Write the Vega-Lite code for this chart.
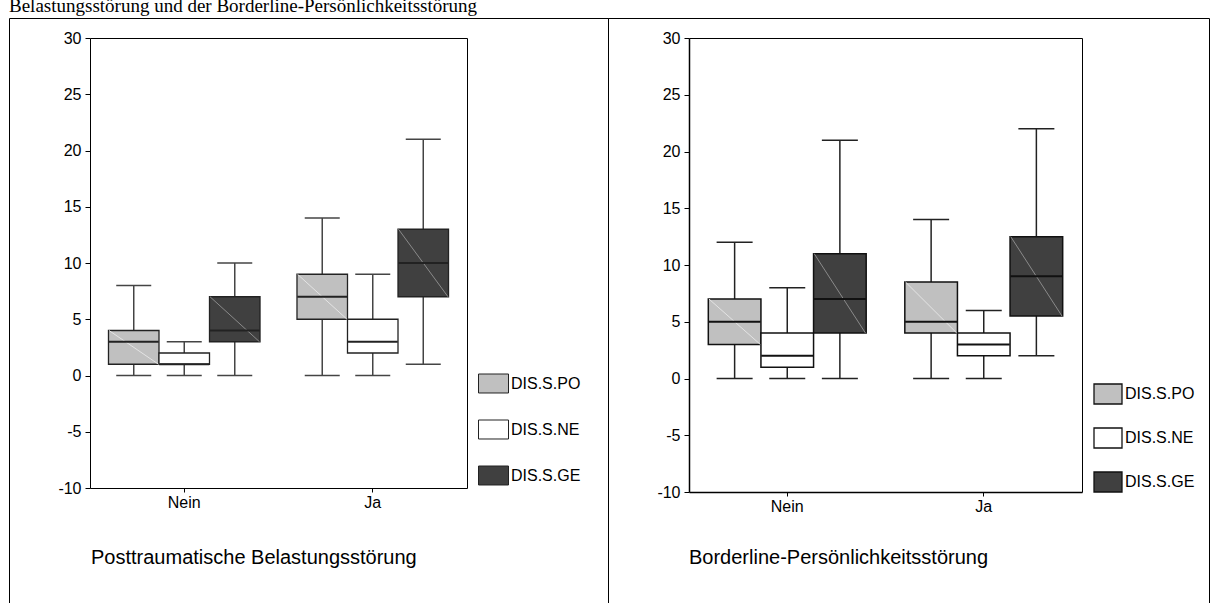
{
  "$schema": "https://vega.github.io/schema/vega-lite/v6.json",
  "padding": {"left": 8, "top": -4, "right": 4, "bottom": 0},
  "title": {"text": "Belastungsstörung und der Borderline-Persönlichkeitsstörung", "anchor": "start", "frame": "group", "font": "Liberation Serif", "fontSize": 19, "fontWeight": "normal", "color": "#000", "offset": 2},
  "datasets": {
    "ptbs": [
      {"group": "Nein", "series": "DIS.S.PO", "lower": 0, "q1": 1, "median": 3, "q3": 4, "upper": 8},
      {"group": "Nein", "series": "DIS.S.NE", "lower": 0, "q1": 1, "median": 1, "q3": 2, "upper": 3},
      {"group": "Nein", "series": "DIS.S.GE", "lower": 0, "q1": 3, "median": 4, "q3": 7, "upper": 10},
      {"group": "Ja", "series": "DIS.S.PO", "lower": 0, "q1": 5, "median": 7, "q3": 9, "upper": 14},
      {"group": "Ja", "series": "DIS.S.NE", "lower": 0, "q1": 2, "median": 3, "q3": 5, "upper": 9},
      {"group": "Ja", "series": "DIS.S.GE", "lower": 1, "q1": 7, "median": 10, "q3": 13, "upper": 21}
    ],
    "bps": [
      {"group": "Nein", "series": "DIS.S.PO", "lower": 0, "q1": 3, "median": 5, "q3": 7, "upper": 12},
      {"group": "Nein", "series": "DIS.S.NE", "lower": 0, "q1": 1, "median": 2, "q3": 4, "upper": 8},
      {"group": "Nein", "series": "DIS.S.GE", "lower": 0, "q1": 4, "median": 7, "q3": 11, "upper": 21},
      {"group": "Ja", "series": "DIS.S.PO", "lower": 0, "q1": 4, "median": 5, "q3": 8.5, "upper": 14},
      {"group": "Ja", "series": "DIS.S.NE", "lower": 0, "q1": 2, "median": 3, "q3": 4, "upper": 6},
      {"group": "Ja", "series": "DIS.S.GE", "lower": 2, "q1": 5.5, "median": 9, "q3": 12.5, "upper": 22}
    ]
  },
  "spacing": 0,
  "bounds": "flush",
  "resolve": {"scale": {"color": "independent", "x": "independent", "y": "independent", "xOffset": "independent"}, "legend": {"color": "independent"}},
  "hconcat": [
    {
      "width": 599,
      "height": 600,
      "data": {"name": "ptbs"},
      "title": {"text": "Posttraumatische Belastungsstörung", "orient": "bottom", "anchor": "start", "frame": "group", "offset": -70, "dx": 82, "font": "Liberation Sans", "fontSize": 20, "fontWeight": "normal", "color": "#000"},
      "encoding": {
        "x": {"field": "group", "type": "nominal", "sort": ["Nein", "Ja"], "scale": {"domain": ["Nein", "Ja"], "range": [81, 458], "paddingInner": 0, "paddingOuter": 0}, "axis": null},
        "xOffset": {"field": "series", "type": "nominal", "sort": ["DIS.S.PO", "DIS.S.NE", "DIS.S.GE"], "scale": {"domain": ["DIS.S.PO", "DIS.S.NE", "DIS.S.GE"], "paddingInner": 0, "paddingOuter": 0.366}}
      },
      "resolve": {"axis": {"x": "independent", "y": "independent"}, "scale": {"xOffset": "independent"}},
      "layer": [
        {
          "mark": {"type": "rule", "color": "#444", "strokeWidth": 1.5},
          "encoding": {
            "x": {"field": "group", "type": "nominal", "sort": ["Nein", "Ja"], "axis": {"orient": "top", "offset": -20, "labels": false, "ticks": false, "title": null, "grid": false, "domainColor": "#000", "domainWidth": 1}},
            "y": {"field": "lower", "type": "quantitative", "scale": {"domain": [-10, 30], "range": [470, 20], "nice": false, "zero": false}, "axis": {"orient": "right", "offset": -141, "labels": false, "ticks": false, "title": null, "grid": false, "domainColor": "#000", "domainWidth": 1}},
            "y2": {"field": "upper"}
          }
        },
        {
          "mark": {"type": "bar", "stroke": "#222", "strokeWidth": 1.3, "opacity": 1},
          "encoding": {
            "x": {"field": "group", "type": "nominal", "sort": ["Nein", "Ja"], "axis": {"orient": "bottom", "offset": -130, "title": null, "grid": false, "labelAngle": 0, "labelFontSize": 16, "labelFont": "Liberation Sans", "labelColor": "#000", "tickColor": "#000", "tickSize": 4, "labelPadding": 2, "domainColor": "#000", "domainWidth": 1}},
            "y": {"field": "q3", "type": "quantitative", "axis": {"orient": "left", "offset": -81, "title": null, "grid": false, "values": [-10, -5, 0, 5, 10, 15, 20, 25, 30], "labelExpr": "'' + datum.value", "labelFontSize": 16, "labelFont": "Liberation Sans", "labelColor": "#000", "tickColor": "#000", "tickSize": 5, "labelPadding": 4, "domainColor": "#000", "domainWidth": 1, "labelFlush": false, "labelOverlap": false}},
            "y2": {"field": "q1"},
            "color": {"field": "series", "type": "nominal", "scale": {"domain": ["DIS.S.PO", "DIS.S.NE", "DIS.S.GE"], "range": ["#c0c0c0", "#ffffff", "#404040"]}, "legend": {"orient": "none", "legendX": 469, "legendY": 350, "title": null, "symbolType": "M-1,-0.633H1V0.633H-1Z", "symbolSize": 900, "symbolStrokeColor": "#222", "symbolStrokeWidth": 1, "symbolOpacity": 1, "labelFontSize": 16, "labelFont": "Liberation Sans", "labelColor": "#000", "labelOffset": 2, "rowPadding": 19, "padding": 0}}
          }
        },
        {
          "transform": [{"filter": "datum.series === 'DIS.S.PO'"}, {"fold": ["q3", "q1"], "as": ["key", "val"]}],
          "mark": {"type": "line", "color": "#e4e4e4", "strokeWidth": 1},
          "encoding": {
            "x": {"field": "group", "type": "nominal", "sort": ["Nein", "Ja"], "axis": null},
            "xOffset": {"field": "key", "type": "nominal", "scale": {"type": "point", "domain": ["q3", "q1"], "range": [19, 68.5], "padding": 0}},
            "y": {"field": "val", "type": "quantitative", "axis": null},
            "detail": {"field": "group"}
          }
        },
        {
          "transform": [{"filter": "datum.series === 'DIS.S.GE'"}, {"fold": ["q3", "q1"], "as": ["key", "val"]}],
          "mark": {"type": "line", "color": "#8a8a8a", "strokeWidth": 1},
          "encoding": {
            "x": {"field": "group", "type": "nominal", "sort": ["Nein", "Ja"], "axis": null},
            "xOffset": {"field": "key", "type": "nominal", "scale": {"type": "point", "domain": ["q3", "q1"], "range": [120, 169.5], "padding": 0}},
            "y": {"field": "val", "type": "quantitative", "axis": null},
            "detail": {"field": "group"}
          }
        },
        {
          "mark": {"type": "tick", "color": "#444", "thickness": 1.5, "size": 35, "opacity": 1},
          "encoding": {"x": {"field": "group", "type": "nominal", "sort": ["Nein", "Ja"], "axis": null}, "y": {"field": "lower", "type": "quantitative", "axis": null}}
        },
        {
          "mark": {"type": "tick", "color": "#444", "thickness": 1.5, "size": 35, "opacity": 1},
          "encoding": {"x": {"field": "group", "type": "nominal", "sort": ["Nein", "Ja"], "axis": null}, "y": {"field": "upper", "type": "quantitative", "axis": null}}
        },
        {
          "mark": {"type": "tick", "color": "#222", "thickness": 2, "size": 50, "opacity": 1},
          "encoding": {"x": {"field": "group", "type": "nominal", "sort": ["Nein", "Ja"], "axis": null}, "y": {"field": "median", "type": "quantitative", "axis": null}}
        }
      ]
    },
    {
      "width": 601,
      "height": 600,
      "data": {"name": "bps"},
      "title": {"text": "Borderline-Persönlichkeitsstörung", "orient": "bottom", "anchor": "start", "frame": "group", "offset": -70, "dx": 81, "font": "Liberation Sans", "fontSize": 20, "fontWeight": "normal", "color": "#000"},
      "encoding": {
        "x": {"field": "group", "type": "nominal", "sort": ["Nein", "Ja"], "scale": {"domain": ["Nein", "Ja"], "range": [81, 474], "paddingInner": 0, "paddingOuter": 0}, "axis": null},
        "xOffset": {"field": "series", "type": "nominal", "sort": ["DIS.S.PO", "DIS.S.NE", "DIS.S.GE"], "scale": {"domain": ["DIS.S.PO", "DIS.S.NE", "DIS.S.GE"], "paddingInner": 0, "paddingOuter": 0.367}}
      },
      "resolve": {"axis": {"x": "independent", "y": "independent"}, "scale": {"xOffset": "independent"}},
      "layer": [
        {
          "mark": {"type": "rule", "color": "#222", "strokeWidth": 1.5},
          "encoding": {
            "x": {"field": "group", "type": "nominal", "sort": ["Nein", "Ja"], "axis": {"orient": "top", "offset": -20, "labels": false, "ticks": false, "title": null, "grid": false, "domainColor": "#000", "domainWidth": 1}},
            "y": {"field": "lower", "type": "quantitative", "scale": {"domain": [-10, 30], "range": [474, 20], "nice": false, "zero": false}, "axis": {"orient": "right", "offset": -127, "labels": false, "ticks": false, "title": null, "grid": false, "domainColor": "#000", "domainWidth": 1}},
            "y2": {"field": "upper"}
          }
        },
        {
          "mark": {"type": "bar", "stroke": "#111", "strokeWidth": 1.5, "opacity": 1},
          "encoding": {
            "x": {"field": "group", "type": "nominal", "sort": ["Nein", "Ja"], "axis": {"orient": "bottom", "offset": -126, "title": null, "grid": false, "labelAngle": 0, "labelFontSize": 16, "labelFont": "Liberation Sans", "labelColor": "#000", "tickColor": "#000", "tickSize": 4, "labelPadding": 2, "domainColor": "#000", "domainWidth": 1.5}},
            "y": {"field": "q3", "type": "quantitative", "axis": {"orient": "left", "offset": -81, "title": null, "grid": false, "values": [-10, -5, 0, 5, 10, 15, 20, 25, 30], "labelExpr": "'' + datum.value", "labelFontSize": 16, "labelFont": "Liberation Sans", "labelColor": "#000", "tickColor": "#000", "tickSize": 5, "labelPadding": 4, "domainColor": "#000", "domainWidth": 1.5, "labelFlush": false, "labelOverlap": false}},
            "y2": {"field": "q1"},
            "color": {"field": "series", "type": "nominal", "scale": {"domain": ["DIS.S.PO", "DIS.S.NE", "DIS.S.GE"], "range": ["#c0c0c0", "#ffffff", "#404040"]}, "legend": {"orient": "none", "legendX": 485, "legendY": 361, "title": null, "symbolType": "M-1,-0.714H1V0.714H-1Z", "symbolSize": 784, "symbolStrokeColor": "#111", "symbolStrokeWidth": 1.3, "symbolOpacity": 1, "labelFontSize": 16, "labelFont": "Liberation Sans", "labelColor": "#000", "labelOffset": 2, "rowPadding": 16, "padding": 0}}
          }
        },
        {
          "transform": [{"filter": "datum.series === 'DIS.S.PO'"}, {"fold": ["q3", "q1"], "as": ["key", "val"]}],
          "mark": {"type": "line", "color": "#e4e4e4", "strokeWidth": 1},
          "encoding": {
            "x": {"field": "group", "type": "nominal", "sort": ["Nein", "Ja"], "axis": null},
            "xOffset": {"field": "key", "type": "nominal", "scale": {"type": "point", "domain": ["q3", "q1"], "range": [20, 71.3], "padding": 0}},
            "y": {"field": "val", "type": "quantitative", "axis": null},
            "detail": {"field": "group"}
          }
        },
        {
          "transform": [{"filter": "datum.series === 'DIS.S.GE'"}, {"fold": ["q3", "q1"], "as": ["key", "val"]}],
          "mark": {"type": "line", "color": "#8a8a8a", "strokeWidth": 1},
          "encoding": {
            "x": {"field": "group", "type": "nominal", "sort": ["Nein", "Ja"], "axis": null},
            "xOffset": {"field": "key", "type": "nominal", "scale": {"type": "point", "domain": ["q3", "q1"], "range": [125.2, 176.5], "padding": 0}},
            "y": {"field": "val", "type": "quantitative", "axis": null},
            "detail": {"field": "group"}
          }
        },
        {
          "mark": {"type": "tick", "color": "#222", "thickness": 1.5, "size": 36, "opacity": 1},
          "encoding": {"x": {"field": "group", "type": "nominal", "sort": ["Nein", "Ja"], "axis": null}, "y": {"field": "lower", "type": "quantitative", "axis": null}}
        },
        {
          "mark": {"type": "tick", "color": "#222", "thickness": 1.5, "size": 36, "opacity": 1},
          "encoding": {"x": {"field": "group", "type": "nominal", "sort": ["Nein", "Ja"], "axis": null}, "y": {"field": "upper", "type": "quantitative", "axis": null}}
        },
        {
          "mark": {"type": "tick", "color": "#111", "thickness": 2, "size": 52, "opacity": 1},
          "encoding": {"x": {"field": "group", "type": "nominal", "sort": ["Nein", "Ja"], "axis": null}, "y": {"field": "median", "type": "quantitative", "axis": null}}
        }
      ]
    }
  ],
  "config": {
    "view": {"stroke": "#000", "strokeWidth": 1},
    "font": "Liberation Sans",
    "axis": {"grid": false}
  }
}
